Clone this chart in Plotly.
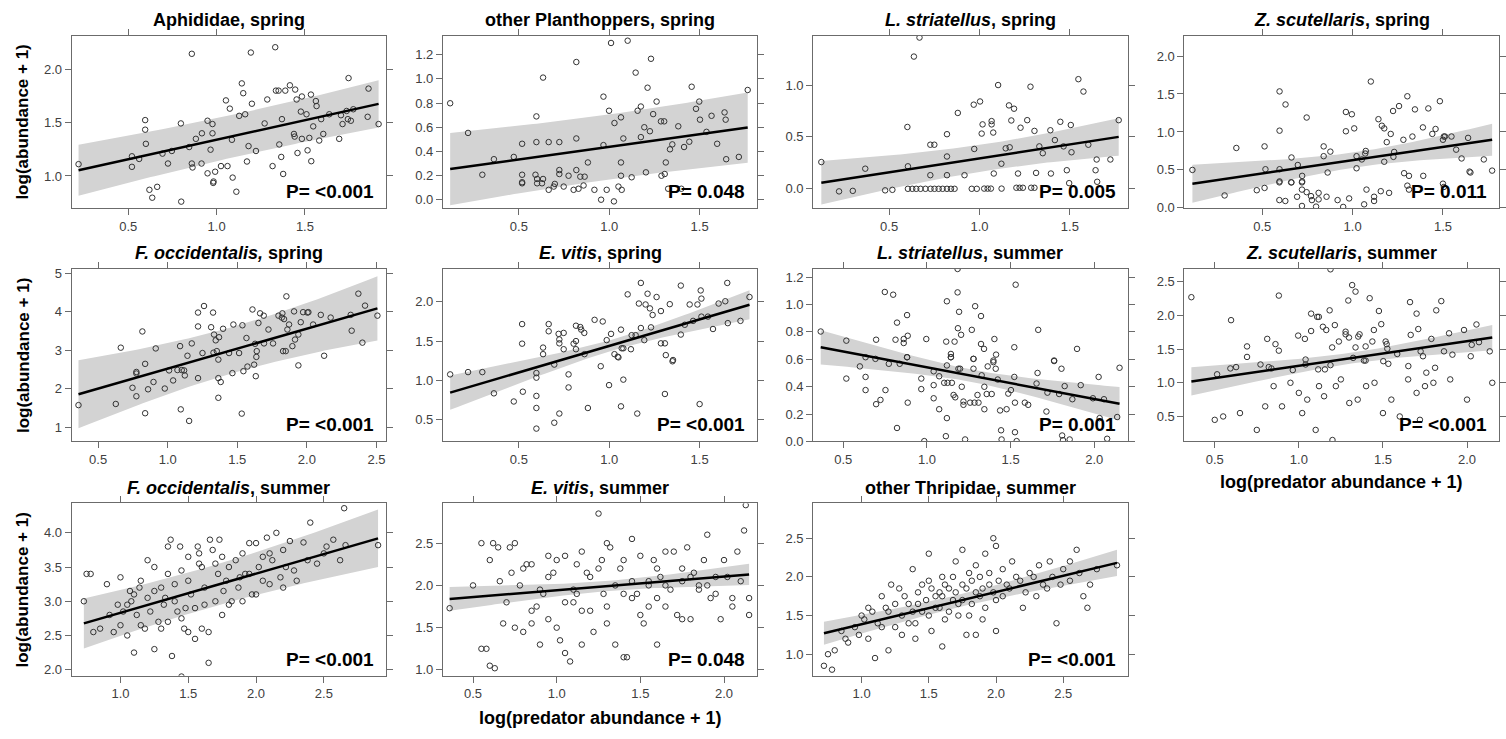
import numpy as np
import plotly.graph_objects as go

# ---------------- data: log(predator abundance + 1) vs log(abundance + 1) ----------------
aphid_spring_x = [0.219, 0.521, 0.521, 0.562, 0.596, 0.596, 0.600, 0.694, 0.725, 0.747, 0.798, 0.845, 0.860, 0.860,
                  0.864, 0.883, 0.915, 0.917, 0.949, 0.977, 0.977, 0.966, 0.949, 0.992, 0.983, 1.025, 1.062, 1.053,
                  1.075, 1.087, 1.091, 1.128, 1.143, 1.151, 1.162, 1.172, 1.194, 1.200, 1.181, 1.223, 1.287, 1.272,
                  1.317, 1.332, 1.336, 1.351, 1.370, 1.355, 1.366, 1.377, 1.389, 1.415, 1.445, 1.438, 1.442, 1.453,
                  1.458, 1.483, 1.483, 1.477, 1.509, 1.515, 1.534, 1.525, 1.536, 1.547, 1.562, 1.566, 1.581, 1.592,
                  1.604, 1.638, 1.694, 1.704, 1.713, 1.736, 1.747, 1.743, 1.760, 1.774, 1.855, 1.860, 1.917, 0.664,
                  0.636, 0.800, 0.981, 1.112, 0.620]
aphid_spring_y = [1.111, 1.086, 1.185, 1.160, 1.525, 1.435, 1.302, 1.210, 1.117, 1.235, 1.494, 1.272, 2.148, 1.117,
                  1.080, 1.349, 1.117, 1.401, 1.519, 1.488, 1.401, 1.247, 1.025, 1.040, 0.948, 1.093, 1.093, 1.710,
                  1.633, 1.340, 0.985, 1.565, 1.870, 1.778, 1.580, 1.136, 2.160, 1.679, 1.281, 1.235, 1.719, 1.494,
                  1.093, 2.210, 1.802, 1.802, 1.534, 1.296, 1.179, 1.019, 1.802, 1.852, 1.812, 1.395, 1.370, 1.719,
                  1.216, 1.747, 1.349, 1.605, 1.580, 1.241, 1.765, 1.358, 1.139, 1.466, 1.704, 1.657, 1.333, 1.534,
                  1.395, 1.580, 1.349, 1.571, 1.488, 1.611, 1.920, 1.534, 1.519, 1.627, 1.556, 1.821, 1.488, 0.898,
                  0.796, 0.759, 0.935, 0.852, 0.870]

planth_spring_x = [0.120, 0.219, 0.298, 0.362, 0.472, 0.518, 0.518, 0.518, 0.597, 0.597, 0.592, 0.601, 0.634, 0.634,
                   0.665, 0.699, 0.724, 0.724, 0.724, 0.775, 0.818, 0.818, 0.818, 0.840, 0.864, 0.882, 0.968, 0.968,
                   0.999, 1.010, 1.029, 1.065, 1.065, 1.065, 1.078, 1.102, 1.124, 1.146, 1.157, 1.175, 1.175, 1.194,
                   1.203, 1.212, 1.225, 1.231, 1.243, 1.262, 1.286, 1.304, 1.289, 1.307, 1.313, 1.336, 1.349, 1.382,
                   1.414, 1.443, 1.456, 1.480, 1.498, 1.502, 1.538, 1.566, 1.597, 1.638, 1.644, 1.647, 1.717, 1.766,
                   0.518, 0.601, 0.628, 0.665, 0.693, 0.748, 0.803, 0.830, 0.858, 0.918, 0.955, 0.986, 1.026, 1.051,
                   1.069, 1.326, 1.399]
planth_spring_y = [0.798, 0.552, 0.205, 0.334, 0.353, 0.462, 0.205, 0.143, 0.689, 0.476, 0.205, 0.170, 0.170, 1.011,
                   0.476, 0.129, 0.476, 0.244, 0.211, 0.197, 1.140, 0.506, 0.244, 0.189, 0.189, 0.307, 0.451, 0.853,
                   0.736, 1.298, 0.634, 0.681, 0.307, 0.197, 0.506, 1.317, 0.184, 1.052, 0.736, 0.771, 0.517, 0.599,
                   0.225, 0.927, 0.566, 1.167, 0.708, 0.812, 0.648, 0.648, 0.197, 0.211, 0.307, 0.416, 0.457, 0.607,
                   0.435, 0.479, 0.935, 0.752, 0.812, 0.662, 0.561, 0.694, 0.462, 0.722, 0.662, 0.334, 0.353, 0.908,
                   0.134, 0.134, 0.134, 0.080, 0.107, 0.107, 0.080, 0.089, 0.116, 0.080, -0.002, 0.080, -0.016, 0.107,
                   0.080, 0.089, 0.089]

lstri_spring_x = [0.125, 0.368, 0.601, 0.604, 0.637, 0.668, 0.728, 0.750, 0.728, 0.820, 0.820, 0.820, 0.880, 0.917,
                  0.968, 1.003, 0.971, 1.012, 1.017, 1.067, 1.067, 1.076, 1.079, 1.103, 1.121, 1.145, 1.167, 1.163,
                  1.191, 1.176, 1.213, 1.227, 1.264, 1.282, 1.304, 1.313, 1.331, 1.350, 1.392, 1.395, 1.417, 1.447,
                  1.465, 1.483, 1.509, 1.505, 1.547, 1.575, 1.602, 1.642, 1.648, 1.724, 1.770,
                  0.223, 0.299, 0.478, 0.518, 0.604, 0.628, 0.650, 0.674, 0.701, 0.729, 0.751, 0.774, 0.796, 0.820,
                  0.842, 0.862, 0.957, 0.985, 1.026, 1.045, 1.063, 1.122, 1.204, 1.222, 1.240, 1.286, 1.304, 1.496,
                  1.651]
lstri_spring_y = [0.254, 0.190, 0.594, 0.213, 1.276, 1.460, 0.422, 0.422, 0.127, 0.524, 0.308, 0.127, 0.730, 0.127,
                  0.810, 0.841, 0.381, 0.530, 0.619, 0.651, 0.619, 0.540, 0.143, 1.000, 0.238, 0.387, 0.397, 0.803,
                  0.771, 0.657, 0.143, 0.587, 0.660, 0.984, 0.556, 0.149, 0.406, 0.340, 0.562, 0.143, 0.467, 0.644,
                  0.406, 0.175, 0.349, 0.613, 1.057, 0.937, 0.422, 0.175, 0.279, 0.279, 0.660,
                  -0.030, -0.025, -0.020, -0.015, -0.005, -0.005, -0.005, -0.005, -0.005, -0.005, -0.005, -0.005,
                  -0.005, -0.005, -0.005, -0.005, -0.005, -0.005, -0.003, -0.003, -0.003, -0.003, 0.005, 0.005, 0.005,
                  0.005, 0.005, 0.050, 0.063]

zscut_spring_x = [0.114, 0.357, 0.513, 0.518, 0.596, 0.596, 0.596, 0.596, 0.629, 0.662, 0.662, 0.697, 0.721, 0.721,
                  0.746, 0.840, 0.840, 0.862, 0.877, 0.963, 0.996, 0.963, 1.009, 1.022, 1.022, 1.051, 1.070, 1.073,
                  1.101, 1.143, 1.162, 1.175, 1.175, 1.189, 1.211, 1.226, 1.230, 1.224, 1.257, 1.281, 1.285, 1.312,
                  1.303, 1.331, 1.345, 1.389, 1.391, 1.419, 1.441, 1.459, 1.483, 1.500, 1.505, 1.511, 1.547, 1.573,
                  1.603, 1.639, 1.647, 1.652, 1.726, 1.772,
                  0.292, 0.470, 0.513, 0.595, 0.660, 0.720, 0.595, 0.628, 0.693, 0.720, 0.746, 0.770, 0.775, 0.812,
                  0.812, 0.856, 0.720, 0.798, 0.917, 0.948, 0.981, 1.064, 1.077, 1.119, 1.119, 1.156, 1.202, 1.303,
                  1.312, 1.500, 1.505]
zscut_spring_y = [0.500, 0.789, 0.810, 0.509, 1.534, 1.017, 0.509, 0.349, 1.362, 0.664, 0.336, 0.565, 0.422, 0.349,
                  1.190, 0.810, 0.681, 0.466, 0.741, 1.263, 1.233, 1.009, 1.047, 0.681, 0.522, 0.638, 0.716, 0.750,
                  1.664, 1.168, 1.082, 1.047, 0.608, 0.866, 0.974, 0.672, 0.737, 1.276, 1.341, 0.897, 0.457, 0.422,
                  1.470, 0.940, 1.297, 1.060, 0.422, 1.310, 0.974, 1.039, 1.405, 0.897, 0.940, 0.940, 0.940, 0.767,
                  0.651, 0.922, 0.478, 0.466, 0.638, 0.491,
                  0.164, 0.233, 0.263, 0.336, 0.336, 0.336, 0.103, 0.091, 0.147, 0.241, 0.207, 0.155, 0.103, 0.198,
                  0.112, 0.147, 0.026, 0.017, 0.103, 0.013, 0.125, 0.047, 0.241, 0.147, 0.091, 0.220, 0.198, 0.293,
                  0.241, 0.319, 0.276]

focc_spring_x = [0.663, 0.818, 0.914, 1.089, 1.173, 1.142, 1.218, 1.218, 1.261, 1.326, 1.250, 1.312, 1.333, 1.345,
                 1.369, 1.329, 1.353, 1.364, 1.398, 1.441, 1.472, 1.513, 1.537, 1.566, 1.609, 1.628, 1.652, 1.664,
                 1.690, 1.640, 1.637, 1.692, 1.724, 1.757, 1.796, 1.820, 1.824, 1.836, 1.829, 1.853, 1.860, 1.872,
                 1.848, 1.896, 1.915, 1.908, 1.939, 1.956, 1.973, 2.004, 2.011, 2.045, 2.100, 2.124, 2.171, 2.315,
                 2.322, 2.370, 2.399, 2.418, 2.507,
                 0.359, 0.627, 0.838, 0.775, 0.775, 0.747, 0.775, 0.859, 0.838, 0.898, 0.979, 1.010, 1.039, 1.070,
                 1.094, 1.101, 1.118, 1.123, 1.154, 1.218, 1.364, 1.381, 1.364, 1.465, 1.532, 1.544, 1.573, 1.621,
                 1.633, 1.939]
focc_spring_y = [3.07, 3.49, 3.05, 3.11, 3.18, 2.86, 3.62, 3.98, 4.15, 3.98, 2.93, 3.60, 3.41, 3.26, 3.34, 2.94, 2.98,
                 2.76, 3.56, 2.93, 3.67, 2.93, 3.65, 3.32, 4.06, 3.17, 3.71, 3.96, 3.90, 2.98, 2.83, 3.18, 3.54, 3.18,
                 3.90, 3.85, 3.96, 3.81, 2.98, 4.40, 3.54, 3.67, 2.98, 3.11, 3.28, 4.01, 3.41, 3.73, 3.99, 3.98, 3.99,
                 3.67, 3.92, 2.86, 3.85, 3.92, 3.51, 4.47, 3.20, 4.16, 3.90,
                 1.58, 1.61, 2.65, 2.44, 2.40, 2.03, 1.81, 1.99, 1.37, 2.18, 2.01, 2.48, 2.22, 2.49, 1.47, 2.49, 2.48,
                 2.35, 1.17, 2.28, 2.28, 2.18, 1.77, 2.41, 1.36, 2.46, 2.58, 2.63, 2.33, 2.61]

evit_spring_x = [0.518, 0.518, 0.634, 0.634, 0.665, 0.665, 0.720, 0.748, 0.724, 0.724, 0.748, 0.803, 0.816, 0.816,
                 0.816, 0.840, 0.845, 0.862, 0.863, 0.919, 0.964, 0.986, 1.010, 1.029, 1.047, 1.065, 1.069, 1.078,
                 1.102, 1.120, 1.124, 1.146, 1.164, 1.175, 1.175, 1.194, 1.201, 1.212, 1.225, 1.231, 1.240, 1.262,
                 1.286, 1.286, 1.308, 1.313, 1.335, 1.353, 1.396, 1.396, 1.418, 1.445, 1.464, 1.488, 1.506, 1.510,
                 1.510, 1.546, 1.574, 1.605, 1.642, 1.653, 1.656, 1.726, 1.776,
                 0.120, 0.219, 0.298, 0.362, 0.472, 0.522, 0.597, 0.597, 0.597, 0.597, 0.597, 0.696, 0.696, 0.724,
                 0.775, 0.775, 0.882, 0.953, 0.999, 1.065, 1.078, 1.155, 1.308, 1.350, 1.500, 1.051]
evit_spring_y = [1.717, 1.467, 1.417, 1.333, 1.717, 1.625, 1.592, 1.604, 1.521, 1.471, 1.396, 1.467, 1.696, 1.500,
                 1.396, 1.679, 1.646, 1.604, 1.333, 1.771, 1.750, 1.512, 1.592, 1.333, 1.300, 1.646, 1.408, 1.408,
                 2.096, 1.396, 1.575, 1.575, 1.979, 2.242, 1.667, 1.512, 1.967, 2.104, 1.917, 1.675, 1.833, 2.062,
                 1.883, 1.471, 1.471, 1.321, 1.971, 1.258, 2.208, 1.583, 1.708, 1.967, 1.758, 1.967, 2.146, 2.042,
                 1.812, 1.812, 1.654, 1.979, 2.008, 2.242, 1.729, 1.758, 2.062,
                 1.075, 1.104, 1.104, 0.833, 0.729, 0.854, 1.092, 1.033, 0.800, 0.646, 0.383, 0.458, 1.200, 0.575,
                 1.075, 0.908, 0.646, 1.179, 0.938, 0.667, 1.008, 0.575, 0.825, 1.242, 0.696, 1.292]

lstri_summer_x = [0.365, 0.518, 0.696, 0.748, 0.798, 0.812, 0.821, 0.861, 0.861, 0.885, 0.881, 0.881, 0.996, 1.119,
                  1.115, 1.143, 1.143, 1.165, 1.183, 1.183, 1.192, 1.185, 1.204, 1.268, 1.278, 1.288, 1.323, 1.323,
                  1.341, 1.403, 1.413, 1.397, 1.522, 1.530, 1.665, 1.760, 1.897,
                  0.518, 0.599, 0.633, 0.633, 0.633, 0.692, 0.752, 0.722, 0.696, 0.772, 0.821, 0.837, 0.881, 0.885,
                  0.966, 0.966, 0.984, 1.040, 1.040, 1.040, 1.073, 1.073, 1.103, 1.119, 1.123, 1.119, 1.113, 1.143,
                  1.149, 1.159, 1.169, 1.188, 1.198, 1.208, 1.218, 1.218, 1.228, 1.258, 1.278, 1.278, 1.284, 1.302,
                  1.308, 1.327, 1.343, 1.343, 1.357, 1.363, 1.387, 1.397, 1.411, 1.423, 1.437, 1.443, 1.446, 1.476,
                  1.486, 1.502, 1.522, 1.526, 1.526, 1.536, 1.585, 1.605, 1.655, 1.661, 1.714, 1.720, 1.760, 1.790,
                  1.804, 1.808, 1.813, 1.823, 1.853, 1.869, 1.919, 1.992, 2.026, 2.032, 2.058, 2.077, 2.137, 2.151]
lstri_summer_y = [0.803, 0.736, 0.743, 1.092, 1.072, 0.743, 0.868, 0.748, 0.719, 0.772, 0.923, 0.615, 0.748, 1.024,
                  0.729, 0.639, 0.615, 0.729, 1.260, 1.089, 0.947, 0.827, 0.779, 0.815, 0.603, 0.988, 0.916, 0.712,
                  0.676, 0.748, 0.634, 0.591, 0.688, 1.145, 0.815, 0.591, 0.676,
                  0.459, 0.548, 0.615, 0.471, 0.375, 0.603, 0.375, 0.303, 0.272, 0.567, 0.098, 0.567, 0.615, 0.283,
                  0.459, 0.382, 0.002, 0.512, 0.411, 0.315, 0.476, 0.235, 0.428, 0.555, 0.428, 0.170, 0.038, 0.615,
                  0.428, 0.339, 0.322, 0.531, 0.531, 0.399, 0.291, 0.267, 0.014, 0.283, 0.603, 0.531, 0.283, 0.339,
                  0.283, 0.483, 0.399, 0.235, 0.346, 0.548, 0.346, 0.579, 0.531, 0.452, 0.226, 0.081, 0.014, 0.235,
                  0.349, 0.375, 0.471, 0.283, 0.067, 0.002, 0.283, 0.267, 0.423, 0.500, 0.218, 0.356, 0.587, 0.346,
                  0.531, 0.043, 0.009, 0.404, 0.014, 0.308, 0.411, 0.315, 0.471, 0.170, 0.308, 0.019, 0.178, 0.538]

zscut_summer_x = [0.361, 0.597, 0.514, 0.593, 0.627, 0.692, 0.692, 0.772, 0.812, 0.821, 0.837, 0.861, 0.881, 0.881,
                  0.964, 0.996, 1.036, 1.040, 1.040, 1.073, 1.073, 1.109, 1.119, 1.115, 1.143, 1.155, 1.163, 1.183,
                  1.188, 1.198, 1.188, 1.214, 1.238, 1.278, 1.278, 1.294, 1.298, 1.317, 1.323, 1.337, 1.337, 1.353,
                  1.361, 1.387, 1.397, 1.397, 1.421, 1.437, 1.446, 1.476, 1.490, 1.502, 1.516, 1.522, 1.526, 1.532,
                  1.585, 1.651, 1.661, 1.665, 1.700, 1.710, 1.724, 1.738, 1.758, 1.788, 1.810, 1.817, 1.847, 1.863,
                  1.893, 1.913, 1.982, 2.022, 2.028, 2.056, 2.071, 2.135,
                  0.50, 0.55, 0.65, 0.75, 0.80, 0.85, 0.90, 0.95, 1.00, 1.02, 1.05, 1.10, 1.12, 1.15, 1.20, 1.22,
                  1.25, 1.30, 1.35, 1.40, 1.45, 1.50, 1.55, 1.60, 1.65, 1.70, 1.72, 1.75, 1.80, 1.90, 2.00, 2.15]
zscut_summer_y = [2.271, 1.930, 1.126, 1.213, 1.233, 1.540, 1.384, 1.272, 1.652, 1.233, 1.213, 1.574, 1.477, 2.295,
                  1.189, 1.701, 1.652, 1.345, 1.272, 1.769, 2.027, 1.979, 1.979, 1.199, 1.832, 1.199, 1.784, 2.076,
                  2.685, 1.525, 1.262, 1.857, 1.613, 1.759, 1.720, 2.222, 1.672, 2.451, 1.370, 2.354, 1.525, 1.686,
                  1.720, 1.330, 1.330, 1.540, 2.256, 1.613, 1.784, 2.066, 1.871, 1.321, 1.613, 1.574, 1.506, 1.282,
                  1.428, 1.248, 2.198, 1.711, 2.027, 1.798, 1.467, 1.394, 1.150, 1.652, 1.223, 2.076, 2.213, 1.467,
                  1.735, 1.418, 1.784, 1.394, 1.564, 1.866, 1.603, 1.467,
                  0.45, 0.50, 0.55, 0.30, 0.65, 0.95, 0.65, 1.00, 0.85, 0.55, 0.75, 0.30, 0.95, 0.80, 0.15, 0.95,
                  1.05, 0.70, 0.75, 0.95, 1.00, 0.55, 0.75, 0.50, 1.05, 0.85, 0.45, 0.95, 1.00, 1.05, 0.75, 1.00]

focc_summer_x = [0.73, 0.75, 0.78, 0.80, 0.90, 0.92, 0.98, 1.00, 1.02, 1.05, 1.08, 1.10, 1.12, 1.15, 1.18, 1.20,
                 1.22, 1.25, 1.28, 1.30, 1.32, 1.35, 1.37, 1.38, 1.40, 1.42, 1.44, 1.45, 1.47, 1.50, 1.52, 1.55,
                 1.57, 1.58, 1.60, 1.62, 1.65, 1.66, 1.68, 1.70, 1.72, 1.73, 1.75, 1.78, 1.80, 1.82, 1.85, 1.87,
                 1.90, 1.92, 1.95, 1.97, 2.00, 2.02, 2.05, 2.08, 2.10, 2.12, 2.15, 2.18, 2.20, 2.22, 2.25, 2.30,
                 2.35, 2.40, 2.45, 2.50, 2.52, 2.57, 2.62, 2.65, 2.66, 2.90,
                 1.10, 1.25, 1.45, 1.55, 1.65, 1.80, 1.30, 0.95, 1.05, 1.15, 1.35, 1.50, 1.90, 2.00, 2.20, 2.10,
                 1.70, 1.60, 1.45, 1.25, 1.40, 0.85, 1.00, 1.20, 1.35, 1.50, 1.75,
                 1.62, 1.88, 2.05, 2.28, 1.14, 1.33, 1.48, 1.76, 1.95, 2.38, 1.07, 1.58]
focc_summer_y = [3.00, 3.40, 3.40, 2.55, 3.25, 2.80, 2.95, 2.65, 2.85, 2.50, 3.00, 3.10, 2.80, 3.30, 2.60, 3.05,
                 2.85, 3.50, 2.70, 3.20, 2.95, 3.40, 3.90, 2.20, 3.00, 2.85, 3.80, 1.90, 2.60, 3.30, 3.10, 2.90,
                 3.80, 3.55, 2.60, 3.20, 2.10, 3.90, 3.75, 3.00, 3.40, 3.90, 2.80, 3.30, 3.50, 3.00, 3.60, 3.20,
                 3.70, 3.40, 3.85, 3.10, 3.85, 3.50, 3.30, 3.93, 3.70, 3.60, 4.00, 3.35, 3.75, 3.50, 3.88, 3.30,
                 3.86, 4.15, 3.55, 3.70, 3.80, 3.90, 3.60, 4.36, 3.82, 3.82,
                 2.25, 2.30, 2.75, 2.45, 2.55, 2.95, 2.60, 2.55, 2.95, 2.65, 2.70, 2.55, 3.00, 3.10, 3.20, 3.25,
                 3.55, 3.50, 3.45, 3.15, 3.25, 2.60, 3.35, 3.60, 3.80, 3.65, 3.65,
                 2.95, 3.35, 3.65, 3.45, 3.20, 3.05, 2.90, 3.15, 3.40, 3.60, 3.15, 3.70]

evit_summer_x = [0.36, 0.50, 0.55, 0.60, 0.60, 0.62, 0.65, 0.70, 0.75, 0.75, 0.80, 0.80, 0.85, 0.85, 0.90, 0.90,
                 0.95, 0.95, 1.00, 1.00, 1.05, 1.05, 1.10, 1.10, 1.15, 1.15, 1.20, 1.20, 1.25, 1.25, 1.28, 1.30,
                 1.30, 1.35, 1.40, 1.40, 1.45, 1.45, 1.50, 1.50, 1.55, 1.55, 1.60, 1.60, 1.65, 1.70, 1.75, 1.75,
                 1.80, 1.80, 1.85, 1.90, 1.95, 2.00, 2.05, 2.10, 2.12, 2.15, 2.13,
                 0.55, 0.58, 0.63, 0.66, 0.72, 0.78, 0.82, 0.85, 0.88, 0.92, 0.95, 1.02, 1.05, 1.08, 1.12, 1.15,
                 1.18, 1.22, 1.27, 1.30, 1.32, 1.35, 1.38, 1.42, 1.45, 1.48, 1.52, 1.55, 1.58, 1.60, 1.62, 1.65,
                 1.68, 1.72, 1.75, 1.78, 1.82, 1.85, 1.88, 1.92, 1.95, 1.98, 2.05, 2.08, 2.15, 0.68, 0.73, 0.98,
                 1.12, 1.40, 1.65, 1.90, 2.02]
evit_summer_y = [1.73, 2.00, 1.25, 2.30, 1.05, 2.50, 2.45, 1.80, 2.50, 1.50, 1.45, 2.20, 2.25, 1.70, 1.95, 1.30,
                 2.35, 2.10, 2.30, 1.50, 2.35, 1.20, 1.80, 1.95, 2.40, 1.30, 2.10, 1.70, 2.20, 2.85, 1.90, 1.55,
                 2.50, 2.00, 2.30, 1.15, 2.55, 1.85, 2.35, 1.65, 1.75, 2.05, 2.20, 1.30, 2.00, 2.40, 1.60, 2.20,
                 2.10, 1.60, 2.00, 2.60, 1.90, 2.30, 1.85, 2.05, 2.65, 1.85, 2.95,
                 2.50, 1.25, 1.02, 2.05, 2.45, 2.00, 2.25, 1.55, 1.75, 1.90, 1.60, 1.35, 1.80, 1.10, 1.90, 1.70,
                 2.15, 1.45, 2.30, 1.75, 2.45, 1.30, 2.20, 1.15, 2.05, 1.90, 1.55, 2.00, 2.30, 1.85, 2.10, 2.40,
                 1.95, 1.65, 2.05, 2.45, 2.15, 1.95, 2.30, 1.85, 2.10, 1.60, 1.75, 2.40, 1.65, 1.55, 2.15, 2.15,
                 2.25, 1.90, 1.75, 2.00, 2.10]

thrip_summer_x = [0.72, 0.75, 0.78, 0.85, 0.90, 0.95, 1.00, 1.05, 1.05, 1.10, 1.12, 1.15, 1.20, 1.25, 1.28, 1.30,
                  1.35, 1.38, 1.40, 1.42, 1.45, 1.50, 1.52, 1.55, 1.58, 1.60, 1.62, 1.65, 1.68, 1.70, 1.72, 1.75,
                  1.78, 1.80, 1.82, 1.85, 1.88, 1.90, 1.92, 1.95, 1.98, 2.00, 2.05, 2.10, 2.15, 2.20, 2.25, 2.30,
                  2.35, 2.40, 2.45, 2.50, 2.55, 2.60, 2.65, 2.70, 2.90,
                  0.80, 0.88, 0.98, 1.02, 1.08, 1.15, 1.18, 1.22, 1.25, 1.30, 1.32, 1.35, 1.38, 1.42, 1.45, 1.48,
                  1.50, 1.52, 1.55, 1.58, 1.60, 1.62, 1.65, 1.68, 1.70, 1.72, 1.75, 1.78, 1.80, 1.82, 1.85, 1.88,
                  1.90, 1.92, 1.95, 1.98, 2.00, 2.02, 2.05, 2.08, 2.12, 2.18, 2.22, 2.28, 2.32, 2.38, 2.42, 2.48,
                  2.55, 2.62, 2.68, 2.75, 1.40, 1.60, 1.85, 2.00, 1.20, 1.75, 1.50]
thrip_summer_y = [0.85, 1.00, 0.80, 1.30, 1.15, 1.35, 1.50, 1.60, 1.20, 0.95, 1.40, 1.75, 1.55, 1.35, 1.85, 1.25,
                  1.65, 2.10, 1.40, 1.80, 1.55, 1.95, 1.30, 1.75, 1.60, 2.00, 1.45, 1.85, 1.70, 2.20, 1.50, 1.90,
                  1.25, 2.05, 1.65, 1.80, 2.00, 1.45, 2.30, 1.90, 2.50, 1.70, 2.10, 1.85, 2.00, 1.60, 2.05, 1.75,
                  1.90, 2.20, 1.40, 2.10, 1.95, 2.35, 1.75, 1.90, 2.15,
                  1.05, 1.20, 1.25, 1.45, 1.55, 1.35, 1.60, 1.90, 1.65, 1.50, 1.75, 1.40, 1.55, 1.65, 1.90, 1.70,
                  1.50, 1.85, 1.60, 1.80, 1.75, 1.90, 1.55, 2.00, 1.80, 1.65, 1.70, 1.85, 1.50, 1.95, 2.15, 1.75,
                  1.85, 1.60, 2.05, 1.80, 2.40, 1.95, 1.75, 1.90, 2.20, 1.95, 1.80, 2.00, 2.15, 1.85, 2.00, 1.90,
                  2.20, 2.05, 1.60, 2.10, 1.20, 1.10, 1.25, 1.30, 1.05, 2.35, 2.30]

# panel titles (HTML for italics) and P-value labels
titles = ["Aphididae, spring", "other Planthoppers, spring", "<i>L. striatellus</i>, spring",
          "<i>Z. scutellaris</i>, spring", "<i>F. occidentalis,</i> spring", "<i>E. vitis</i>, spring",
          "<i>L. striatellus</i>, summer", "<i>Z. scutellaris</i>, summer", "<i>F. occidentalis</i>, summer",
          "<i>E. vitis</i>, summer", "other Thripidae, summer"]
p_labels = ["P= <0.001", "P= 0.048", "P= 0.005", "P= 0.011", "P= <0.001", "P= <0.001", "P= 0.001",
            "P= <0.001", "P= <0.001", "P= 0.048", "P= <0.001"]

# fitted model: intercept, slope, CI half-width at mean x and at far end
fit_intercept = [0.974, 0.227, 0.020, 0.279, 1.488, 0.761, 0.772, 0.889, 2.258, 1.782, 0.969]
fit_slope = [0.367, 0.209, 0.270, 0.349, 1.037, 0.677, -0.231, 0.364, 0.573, 0.162, 0.418]
ci_mid = [0.20, 0.27, 0.13, 0.10, 0.60, 0.07, 0.045, 0.08, 0.30, 0.06, 0.08]
ci_end = [0.24, 0.30, 0.21, 0.25, 0.88, 0.22, 0.125, 0.21, 0.42, 0.14, 0.17]

xs = [aphid_spring_x, planth_spring_x, lstri_spring_x, zscut_spring_x, focc_spring_x, evit_spring_x,
      lstri_summer_x, zscut_summer_x, focc_summer_x, evit_summer_x, thrip_summer_x]
ys = [aphid_spring_y, planth_spring_y, lstri_spring_y, zscut_spring_y, focc_spring_y, evit_spring_y,
      lstri_summer_y, zscut_summer_y, focc_summer_y, evit_summer_y, thrip_summer_y]

# axis settings per panel
x_ranges = [[0.18, 1.96], [0.08, 1.82], [0.08, 1.82], [0.07, 1.81], [0.31, 2.57], [0.08, 1.82],
            [0.32, 2.20], [0.32, 2.19], [0.64, 2.96], [0.32, 2.20], [0.64, 2.98]]
y_ranges = [[0.70, 2.32], [-0.07, 1.36], [-0.19, 1.48], [0.0, 2.27], [0.64, 5.11], [0.22, 2.42],
            [0.0, 1.26], [0.13, 2.69], [1.91, 4.43], [0.93, 2.97], [0.72, 2.95]]
x_ticks = [[0.5, 1.0, 1.5]] * 4 + [[0.5, 1.0, 1.5, 2.0, 2.5], [0.5, 1.0, 1.5], [0.5, 1.0, 1.5, 2.0],
                                   [0.5, 1.0, 1.5, 2.0], [1.0, 1.5, 2.0, 2.5], [0.5, 1.0, 1.5, 2.0],
                                   [1.0, 1.5, 2.0, 2.5]]
y_ticks = [[1.0, 1.5, 2.0], [0.0, 0.2, 0.4, 0.6, 0.8, 1.0, 1.2], [0.0, 0.5, 1.0], [0.0, 0.5, 1.0, 1.5, 2.0],
           [1, 2, 3, 4, 5], [0.5, 1.0, 1.5, 2.0], [0.0, 0.2, 0.4, 0.6, 0.8, 1.0, 1.2],
           [0.5, 1.0, 1.5, 2.0, 2.5], [2.0, 2.5, 3.0, 3.5, 4.0], [1.0, 1.5, 2.0, 2.5], [1.0, 1.5, 2.0, 2.5]]

# ---------------- layout geometry (pixels) ----------------
W, H = 1506, 739
col_left = [72, 445, 817, 1190]
panel_w = 316
row_top = [33, 270, 508]
panel_h = 175
positions = [(0, 0), (0, 1), (0, 2), (0, 3), (1, 0), (1, 1), (1, 2), (1, 3), (2, 0), (2, 1), (2, 2)]

FONT = "Arial, Liberation Sans, sans-serif"
AXIS_COL = "#6b6b6b"
TICK_COL = "#404040"

fig = go.Figure()
annotations = []

for i, (r, c) in enumerate(positions):
    ax = "" if i == 0 else str(i + 1)
    xa, ya = "x" + ax, "y" + ax
    x = np.array(xs[i])
    y = np.array(ys[i])
    x0, x1 = x.min(), x.max()
    xc = x.mean()
    grid = np.linspace(x0, x1, 80)
    fit = fit_intercept[i] + fit_slope[i] * grid
    span = max(xc - x0, x1 - xc)
    hw = np.sqrt(ci_mid[i] ** 2 + (ci_end[i] ** 2 - ci_mid[i] ** 2) * ((grid - xc) / span) ** 2)

    fig.add_trace(go.Scatter(x=np.concatenate([grid, grid[::-1]]),
                             y=np.concatenate([fit + hw, (fit - hw)[::-1]]),
                             fill="toself", fillcolor="#d3d3d3", line=dict(width=0),
                             mode="lines", hoverinfo="skip", showlegend=False, xaxis=xa, yaxis=ya))
    fig.add_trace(go.Scatter(x=x, y=y, mode="markers",
                             marker=dict(symbol="circle-open", size=5.5, color="#333333",
                                         line=dict(width=1, color="#333333")),
                             showlegend=False, xaxis=xa, yaxis=ya))
    fig.add_trace(go.Scatter(x=[x0, x1], y=[fit[0], fit[-1]], mode="lines",
                             line=dict(color="black", width=2.5), showlegend=False, xaxis=xa, yaxis=ya))

    left = col_left[c]
    top = row_top[r]
    xdom = [left / W, (left + panel_w) / W]
    ydom = [1 - (top + panel_h) / H, 1 - top / H]
    common = dict(showline=True, linecolor=AXIS_COL, linewidth=1, mirror="ticks", ticks="outside",
                  ticklen=6, tickcolor=AXIS_COL, showgrid=False, zeroline=False,
                  tickfont=dict(family=FONT, size=13, color=TICK_COL))
    fmt = "d" if i == 4 else ".1f"
    fig.layout["xaxis" + ax] = dict(domain=xdom, range=x_ranges[i], tickvals=x_ticks[i], tickformat=".1f",
                                    anchor=ya, **common)
    fig.layout["yaxis" + ax] = dict(domain=ydom, range=y_ranges[i], tickvals=y_ticks[i], tickformat=fmt,
                                    anchor=xa, **common)

    annotations.append(dict(text="<b>" + titles[i] + "</b>", x=(left + panel_w / 2) / W, y=1 - (top - 16) / H,
                            xref="paper", yref="paper", showarrow=False, xanchor="center", yanchor="middle",
                            font=dict(family=FONT, size=18, color="black")))
    annotations.append(dict(text="<b>" + p_labels[i] + "</b>", x=1, y=0, xref=xa + " domain",
                            yref=ya + " domain", xanchor="right", yanchor="bottom", xshift=-10, yshift=4,
                            showarrow=False, font=dict(family=FONT, size=19, color="black")))

# shared axis titles
for r in range(3):
    annotations.append(dict(text="<b>log(abundance + 1)</b>", x=23 / W, y=1 - (row_top[r] + panel_h / 2) / H,
                            xref="paper", yref="paper", textangle=-90, showarrow=False,
                            xanchor="center", yanchor="middle",
                            font=dict(family=FONT, size=17, color="black")))
for (cx, cy) in [((1190 + panel_w / 2), 486), ((445 + panel_w / 2), 726)]:
    annotations.append(dict(text="<b>log(predator abundance + 1)</b>", x=cx / W, y=1 - cy / H,
                            xref="paper", yref="paper", showarrow=False, xanchor="center", yanchor="middle",
                            font=dict(family=FONT, size=18, color="black")))

fig.update_layout(width=W, height=H, margin=dict(l=0, r=0, t=0, b=0), plot_bgcolor="white",
                  paper_bgcolor="white", annotations=annotations)

fig.write_html("out.html")
